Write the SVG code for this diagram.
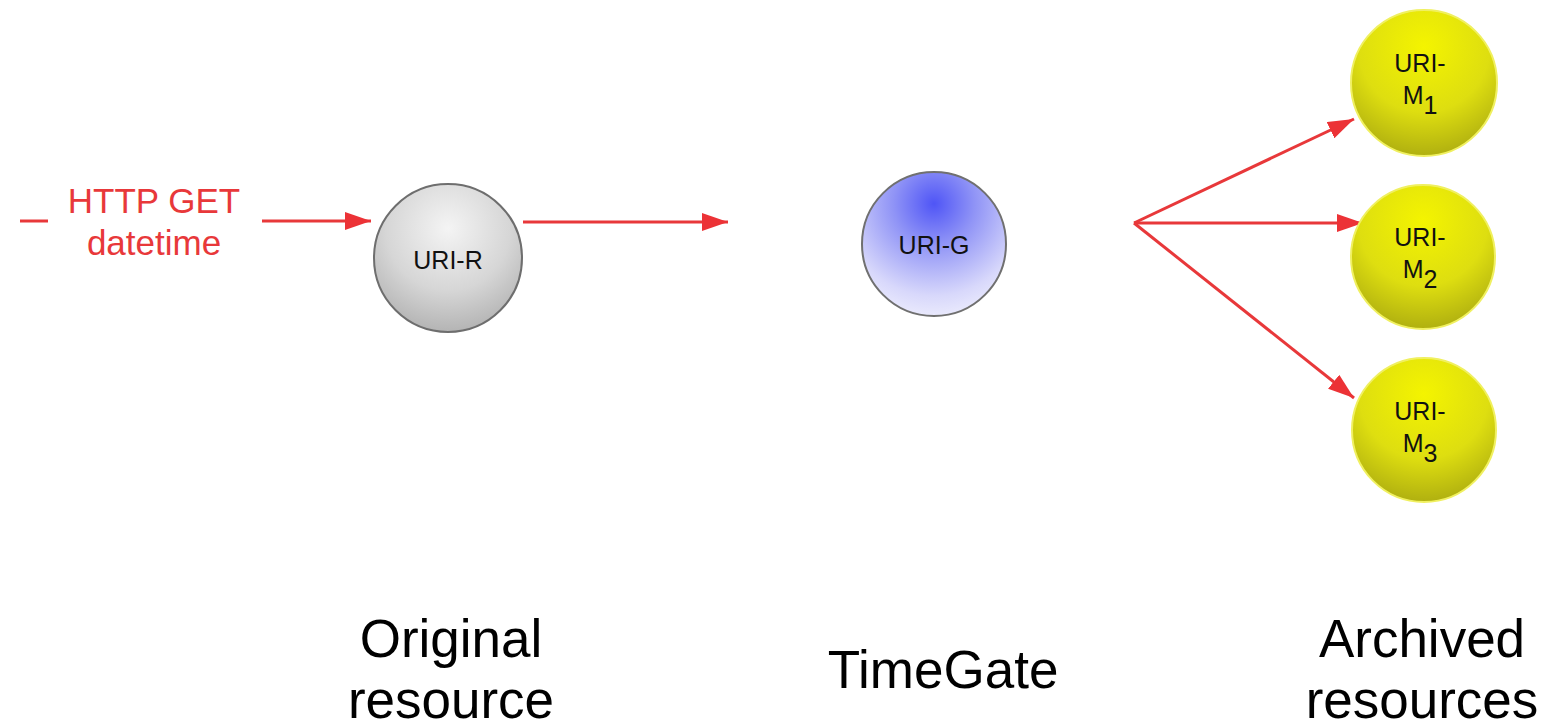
<svg xmlns="http://www.w3.org/2000/svg" width="1554" height="727" viewBox="0 0 1554 727">
<style>
.conn{stroke:#e8383a;stroke-width:3;fill:none}
.lbl{font-family:"Liberation Sans",Arial,sans-serif;fill:#111;text-anchor:middle;font-size:25px}
.red{font-family:"Liberation Sans",Arial,sans-serif;fill:#e8383a;text-anchor:middle;font-size:35px}
.big{font-family:"Liberation Sans",Arial,sans-serif;fill:#000;text-anchor:middle;font-size:53px}
</style>
<defs>
<marker id="ah" viewBox="0 0 26 18" refX="26" refY="9" markerWidth="26" markerHeight="18" markerUnits="userSpaceOnUse" orient="auto">
<path d="M0,0 L26,9 L0,18 Z" fill="#ec3236"/>
</marker>
<radialGradient id="gGray" cx="0.5" cy="0.3" r="0.7">
<stop offset="0" stop-color="#f4f4f4"/>
<stop offset="0.6" stop-color="#d6d6d6"/>
<stop offset="1" stop-color="#b4b4b4"/>
</radialGradient>
<radialGradient id="gBlue" cx="0.5" cy="0.22" r="0.8">
<stop offset="0" stop-color="#4f55f6"/>
<stop offset="0.35" stop-color="#8f93f6"/>
<stop offset="0.8" stop-color="#d8d8fb"/>
<stop offset="1" stop-color="#ececfd"/>
</radialGradient>
<radialGradient id="gYel" cx="0.5" cy="0.25" r="0.75">
<stop offset="0" stop-color="#f4f400"/>
<stop offset="0.6" stop-color="#dede10"/>
<stop offset="1" stop-color="#b0b010"/>
</radialGradient>
</defs>
<rect width="1554" height="727" fill="#fff"/>
<g id="connectors">
<line x1="20" y1="221" x2="48" y2="221" class="conn"/>
<line x1="262" y1="221" x2="371" y2="221" class="conn" marker-end="url(#ah)"/>
<line x1="523" y1="222" x2="728" y2="222" class="conn" marker-end="url(#ah)"/>
<line x1="1134" y1="223" x2="1354" y2="119" class="conn" marker-end="url(#ah)"/>
<line x1="1134" y1="223" x2="1363" y2="223" class="conn" marker-end="url(#ah)"/>
<line x1="1134" y1="223" x2="1354" y2="398" class="conn" marker-end="url(#ah)"/>
</g>
<g id="input-label">
<text x="154" y="213" class="red">HTTP GET</text>
<text x="154" y="255" class="red">datetime</text>
</g>
<g id="node-uri-r">
<circle cx="448" cy="258" r="74" fill="url(#gGray)" stroke="#6e6e6e" stroke-width="2"/>
<text x="448" y="269" class="lbl">URI-R</text>
</g>
<g id="node-uri-g">
<circle cx="934" cy="244" r="72" fill="url(#gBlue)" stroke="#707070" stroke-width="2"/>
<text x="934" y="254" class="lbl" fill="#101040">URI-G</text>
</g>
<g id="node-uri-m1">
<circle cx="1424" cy="83" r="73" fill="url(#gYel)" stroke="#f0f060" stroke-width="2"/>
<text x="1420" y="72" class="lbl">URI-</text>
<text x="1420" y="104" class="lbl">M<tspan dy="10">1</tspan></text>
</g>
<g id="node-uri-m2">
<circle cx="1423" cy="257" r="72" fill="url(#gYel)" stroke="#f0f060" stroke-width="2"/>
<text x="1420" y="246" class="lbl">URI-</text>
<text x="1420" y="278" class="lbl">M<tspan dy="10">2</tspan></text>
</g>
<g id="node-uri-m3">
<circle cx="1424" cy="430" r="72" fill="url(#gYel)" stroke="#f0f060" stroke-width="2"/>
<text x="1420" y="420" class="lbl">URI-</text>
<text x="1420" y="452" class="lbl">M<tspan dy="10">3</tspan></text>
</g>
<g id="captions">
<text x="451" y="657" class="big">Original</text>
<text x="451" y="718" class="big">resource</text>
<text x="943" y="688" class="big" font-size="62">TimeGate</text>
<text x="1422" y="657" class="big">Archived</text>
<text x="1422" y="718" class="big">resources</text>
</g>
</svg>
